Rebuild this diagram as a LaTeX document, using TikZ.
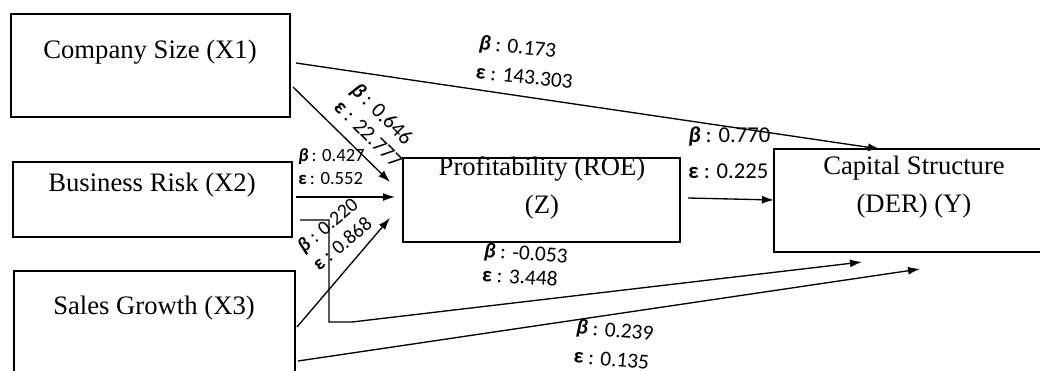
\documentclass[tikz,border=0pt]{standalone}
\usepackage{fontspec}
\setmainfont{Liberation Serif}
\newfontfamily\lblfont{Carlito}
\usetikzlibrary{arrows.meta,calc}
\newcommand\myb{{\bfseries\itshape β}}
\newcommand\mye{{\bfseries ε}}
\begin{document}
\begin{tikzpicture}[x=0.75pt,y=-0.75pt,
  box/.style={draw, line width=1.3pt, inner sep=0pt, outer sep=0pt},
  boxtext/.style={font=\fontsize{20}{28}\selectfont, align=center, inner sep=0pt},
  conn/.style={line width=1pt, -{Latex[length=9pt,width=6pt]}},
  lbl/.style={font=\lblfont\fontsize{16}{22}\selectfont, align=left, inner sep=0pt}
]
\useasboundingbox (0,0) rectangle (1040,371);
\clip (0,0) rectangle (1040,371);

% boxes
\node[box, minimum width=209.25pt, minimum height=77.25pt] (x1) at (150.5,65.5) {};
\node[box, minimum width=209.25pt, minimum height=56.25pt] (x2) at (152.5,199.5) {};
\node[box, minimum width=210.75pt, minimum height=81.75pt] (x3) at (154.5,325.5) {};
\node[box, minimum width=207.75pt, minimum height=63pt] (z) at (541.5,200) {};
\node[box, minimum width=210pt, minimum height=77.25pt] (y) at (914,200.5) {};

% box texts
\node[boxtext] (tx1) at (150,52) {Company Size (X1)};
\node[boxtext] (tx2) at (152,185) {Business Risk (X2)};
\node[boxtext] (tx3) at (154,308) {Sales Growth (X3)};
\node[boxtext] (tz) at (542,188) {Profitability (ROE)\\(Z)};
\node[boxtext] (ty) at (914,187) {Capital Structure\\(DER) (Y)};

% connector end points
\coordinate (s1) at ($(x1.north east)+(6,49)$);
\coordinate (e1) at ($(y.north west)+(106,0)$);
\coordinate (s2) at ($(x1.north east)+(3,73)$);
\coordinate (e2) at ($(z.north west)+(-13,24)$);
\coordinate (s3) at ($(x2.north east)+(4,35)$);
\coordinate (e3) at ($(z.north west)+(-8,39)$);
\coordinate (s4) at ($(x3.north east)+(2,56)$);
\coordinate (e4) at ($(z.north west)+(-13,60)$);
\coordinate (s5) at ($(z.north east)+(8,40)$);
\coordinate (e5) at ($(y.north west)+(0,51)$);
\coordinate (s6) at ($(x2.north east)+(8,58)$);
\coordinate (b1) at (329,220);
\coordinate (b2) at (329,322);
\coordinate (b3) at (352,322);
\coordinate (e6) at ($(y.south west)+(88,10)$);
\coordinate (s7) at ($(x3.north east)+(3,90)$);
\coordinate (e7) at ($(y.south west)+(146,17)$);

% connectors
\draw[conn] (s1) -- (e1);
\draw[conn] (s2) -- (e2);
\draw[conn] (s3) -- (e3);
\draw[conn] (s4) -- (e4);
\draw[conn] (s5) -- (e5);
\draw[conn] (s6) -- (b1) -- (b2) -- (b3) -- (e6);
\draw[conn] (s7) -- (e7);

% labels
\node[lbl, rotate=-6] (l1) at (526,62) {\myb\ : 0.173\\\mye\ : 143.303};
\node[lbl, rotate=-45, font=\lblfont\fontsize{16}{18}\selectfont] (l2) at (377,125) {\myb\ : 0.646\\\mye\ : 22.777};
\node[lbl, anchor=west, font=\lblfont\fontsize{14}{17}\selectfont] (l3) at (298,166.5) {\myb\,: 0.427\\\mye\,: 0.552};
\node[lbl, rotate=40, font=\lblfont\fontsize{15}{18}\selectfont] (l4) at (335,234) {\myb\ : 0.220\\\mye\ : 0.868};
\node[lbl, anchor=west, font=\lblfont\fontsize{17}{27}\selectfont] (l5) at (688,153) {\myb\ : 0.770\\\mye\ : 0.225};
\node[lbl, anchor=west, rotate=-4, font=\lblfont\fontsize{16}{18}\selectfont] (l6) at (483,262) {\myb\ : -0.053\\\mye\ : 3.448};
\node[lbl, anchor=west, rotate=-5] (l7) at (575,341) {\myb\ : 0.239\\\mye\ : 0.135};
\end{tikzpicture}
\end{document}
